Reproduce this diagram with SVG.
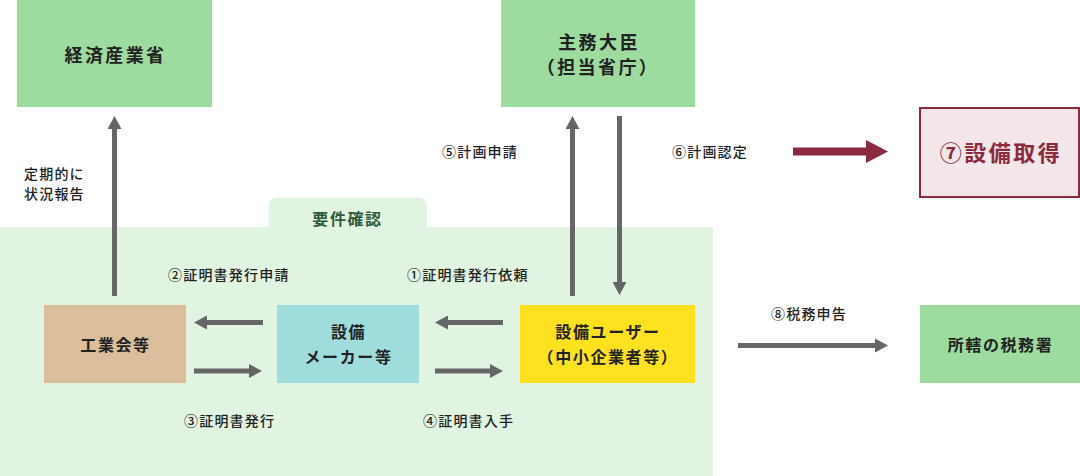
<svg xmlns="http://www.w3.org/2000/svg" width="1080" height="476" viewBox="0 0 1080 476">
<style>
text{font-family:"Noto Sans CJK JP","Noto Sans",sans-serif;fill:#222;}
.node{font-size:16px;font-weight:700;letter-spacing:1.6px;text-anchor:middle;}
.big{font-size:18px;font-weight:700;letter-spacing:2.4px;text-anchor:middle;}
.lbl{font-size:14px;font-weight:500;letter-spacing:1.2px;}
.ar{stroke:#666;stroke-width:5;fill:none;}
.green{fill:#9ddb9e;}
</style>
<defs>
<marker id="ah" markerUnits="userSpaceOnUse" markerWidth="13" markerHeight="14" refX="0" refY="7" orient="auto" viewBox="0 0 13 14">
<path d="M0,0 L13,7 L0,14 z" fill="#666"/>
</marker>
<marker id="ahr" markerUnits="userSpaceOnUse" markerWidth="22" markerHeight="23" refX="0" refY="11.5" orient="auto" viewBox="0 0 22 23">
<path d="M0,0 L22,11.5 L0,23 z" fill="#8b2a3e"/>
</marker>
</defs>
<g id="area">
<path d="M0,227 H268.5 V207 Q268.5,197.5 278,197.5 H417 Q427,197.5 427,207 V227 H713 V476 H0 Z" fill="#e1f4e1"/>
<text x="347.5" y="225" style="font-size:16px;font-weight:700;letter-spacing:1.6px;text-anchor:middle;fill:#2f5a3a">要件確認</text>
</g>
<g id="meti">
<rect x="17" y="0" width="195" height="107" class="green"/>
<text class="big" x="115.5" y="62">経済産業省</text>
</g>
<g id="minister">
<rect x="501" y="0" width="194" height="107" class="green"/>
<text class="big" x="599" y="49">主務大臣</text>
<text class="big" x="598" y="74">（担当省庁）</text>
</g>
<g id="acquire">
<rect x="920" y="108" width="159" height="89" fill="#f3e6e9" stroke="#8b2a3e" stroke-width="2"/>
<text x="1001" y="161" style="font-size:22px;font-weight:700;letter-spacing:2.5px;text-anchor:middle;fill:#8b2a3e">⑦設備取得</text>
</g>
<g id="industry">
<rect x="44" y="305" width="142" height="78" fill="#dbbe9b"/>
<text class="node" x="115.5" y="351">工業会等</text>
</g>
<g id="maker">
<rect x="277" y="305" width="142" height="78" fill="#9fdcdc"/>
<text class="node" x="348.5" y="338">設備</text>
<text class="node" x="348.5" y="363">メーカー等</text>
</g>
<g id="user">
<rect x="520" y="305" width="175" height="78" fill="#ffe21f"/>
<text class="node" x="608" y="338">設備ユーザー</text>
<text class="node" x="608" y="363">（中小企業者等）</text>
</g>
<g id="tax">
<rect x="920" y="305" width="160" height="78" class="green"/>
<text class="node" x="1000.5" y="351">所轄の税務署</text>
</g>
<g id="connectors">
<line class="ar" x1="114.5" y1="296" x2="114.5" y2="129" marker-end="url(#ah)"/>
<line class="ar" x1="572.5" y1="296" x2="572.5" y2="129" marker-end="url(#ah)"/>
<line class="ar" x1="619.5" y1="116" x2="619.5" y2="282" marker-end="url(#ah)"/>
<line class="ar" x1="263" y1="322.5" x2="207" y2="322.5" marker-end="url(#ah)"/>
<line class="ar" x1="194" y1="371" x2="249" y2="371" marker-end="url(#ah)"/>
<line class="ar" x1="503" y1="322.5" x2="448" y2="322.5" marker-end="url(#ah)"/>
<line class="ar" x1="435" y1="371" x2="490" y2="371" marker-end="url(#ah)"/>
<line class="ar" x1="738" y1="345.5" x2="875" y2="345.5" marker-end="url(#ah)"/>
<line x1="793" y1="151.5" x2="866" y2="151.5" stroke="#8b2a3e" stroke-width="8" marker-end="url(#ahr)"/>
</g>
<g id="labels">
<text class="lbl" x="24" y="179">定期的に</text>
<text class="lbl" x="24" y="199">状況報告</text>
<text class="lbl" x="442" y="157">⑤計画申請</text>
<text class="lbl" x="672" y="157">⑥計画認定</text>
<text class="lbl" x="168" y="280">②証明書発行申請</text>
<text class="lbl" x="407" y="280">①証明書発行依頼</text>
<text class="lbl" x="184" y="426">③証明書発行</text>
<text class="lbl" x="423" y="426">④証明書入手</text>
<text class="lbl" x="771" y="319">⑧税務申告</text>
</g>
</svg>
